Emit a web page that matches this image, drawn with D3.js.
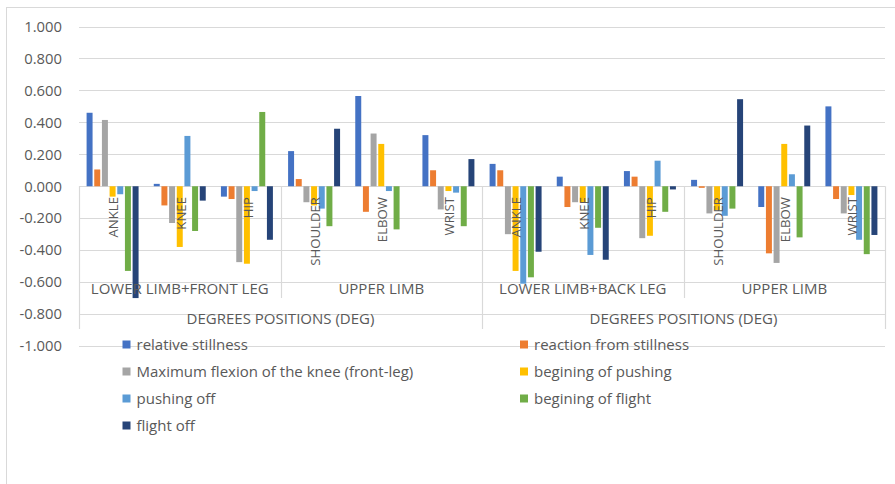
<!DOCTYPE html>
<html>
<head>
<meta charset="utf-8">
<script src="https://cdn.jsdelivr.net/npm/d3@7"></script>
<style>
  html, body { margin: 0; padding: 0; background: #ffffff; }
  svg { display: block; }
  text { font-family: "Open Sans", "Liberation Sans", sans-serif; fill: #595959; }
</style>
</head>
<body>
<svg id="chart" width="895" height="484"></svg>
<script>
// Joint categories (inner level), their limb groups and the outer heading
const joints = ["ANKLE", "KNEE", "HIP", "SHOULDER", "ELBOW", "WRIST",
                "ANKLE", "KNEE", "HIP", "SHOULDER", "ELBOW", "WRIST"];
const limbGroups = ["LOWER LIMB+FRONT LEG", "UPPER LIMB", "LOWER LIMB+BACK LEG", "UPPER LIMB"];
const headings = ["DEGREES POSITIONS (DEG)", "DEGREES POSITIONS (DEG)"];

// Phase series names
const seriesNames = [
  "relative stillness",
  "reaction from stillness",
  "Maximum flexion of the knee (front-leg)",
  "begining of pushing",
  "pushing off",
  "begining of flight",
  "flight off"
];

// Values per phase, one entry per joint
const relativeStillness  = [0.460, 0.015, -0.065, 0.220, 0.565, 0.320, 0.140, 0.060, 0.095, 0.040, -0.130, 0.500];
const reactionStillness  = [0.105, -0.120, -0.080, 0.045, -0.160, 0.100, 0.100, -0.130, 0.060, -0.010, -0.420, -0.080];
const maxKneeFlexion     = [0.415, -0.230, -0.475, -0.100, 0.330, -0.145, -0.300, -0.100, -0.325, -0.170, -0.480, -0.170];
const beginingPushing    = [-0.065, -0.380, -0.485, -0.120, 0.265, -0.030, -0.530, -0.100, -0.310, -0.150, 0.265, -0.055];
const pushingOff         = [-0.050, 0.315, -0.030, -0.140, -0.030, -0.040, -0.610, -0.430, 0.160, -0.185, 0.075, -0.335];
const beginingFlight     = [-0.530, -0.280, 0.465, -0.250, -0.270, -0.250, -0.570, -0.260, -0.160, -0.140, -0.320, -0.425];
const flightOff          = [-0.700, -0.090, -0.335, 0.360, 0.000, 0.170, -0.410, -0.460, -0.020, 0.545, 0.380, -0.305];

const seriesValues = [relativeStillness, reactionStillness, maxKneeFlexion, beginingPushing,
                      pushingOff, beginingFlight, flightOff];

const yTicks = [-1, -0.8, -0.6, -0.4, -0.2, 0, 0.2, 0.4, 0.6, 0.8, 1];

const colors = ["#4472C4", "#ED7D31", "#A5A5A5", "#FFC000", "#5B9BD5", "#70AD47", "#264478"];

const svg = d3.select("#chart");
const gridColor = "#d9d9d9";

// Outer chart frame
svg.append("rect")
  .attr("x", 6.5).attr("y", 7.5)
  .attr("width", 900).attr("height", 490)
  .attr("fill", "none").attr("stroke", gridColor).attr("stroke-width", 1);

const plotLeft = 79, plotRight = 885;
const y = d3.scaleLinear().domain([-1, 1]).range([346, 26.5]);

const idx = d3.range(joints.length);
const x0 = d3.scaleBand().domain(idx).range([plotLeft, plotRight]).paddingInner(0).paddingOuter(0);
const x1 = d3.scaleBand().domain(d3.range(seriesNames.length))
  .range([0, x0.bandwidth()]).paddingInner(0.22).paddingOuter(0.99);

const fmt = d3.formatLocale({decimal: ".", thousands: ",", grouping: [3], currency: ["", ""], minus: "-"}).format(".3f");

// Horizontal gridlines
svg.append("g")
  .selectAll("line").data(yTicks).join("line")
  .attr("x1", plotLeft).attr("x2", plotRight)
  .attr("y1", d => Math.round(y(d)) + 0.5).attr("y2", d => Math.round(y(d)) + 0.5)
  .attr("stroke", gridColor).attr("stroke-width", 1.2);

// Value axis labels
const yAxis = d3.axisLeft(y).tickValues(yTicks).tickFormat(fmt).tickSize(0).tickPadding(0);
const yAxisG = svg.append("g").attr("transform", `translate(${62},0)`).call(yAxis);
yAxisG.select(".domain").remove();
yAxisG.selectAll("text").attr("font-size", 14.8).attr("fill", "#595959")
  .style("font-family", "'Open Sans', sans-serif");

// Bars
const bars = svg.append("g");
seriesValues.forEach((vals, s) => {
  bars.append("g").attr("fill", colors[s])
    .selectAll("rect").data(vals).join("rect")
    .attr("x", (d, i) => x0(i) + x1(s))
    .attr("width", x1.bandwidth())
    .attr("y", d => y(Math.max(0, d)))
    .attr("height", d => Math.abs(y(d) - y(0)));
});

// Category axis: boundaries between groups
const groupSize = 3;
const boundaries = d3.range(0, joints.length + 1, groupSize).map(i =>
  i < joints.length ? x0(i) : plotRight);
svg.append("g").selectAll("line").data(boundaries).join("line")
  .attr("x1", d => Math.round(d) + 0.5).attr("x2", d => Math.round(d) + 0.5)
  .attr("y1", y(0))
  .attr("y2", (d, i) => (i % 2 === 0 ? 329 : 298))
  .attr("stroke", gridColor).attr("stroke-width", 1.2);

// Inner joint labels, rotated
svg.append("g").selectAll("text").data(idx).join("text")
  .attr("transform", i => `translate(${x0(i) + x0.bandwidth() / 2 + 1},197) rotate(-90)`)
  .attr("text-anchor", "end")
  .attr("dy", "0.36em")
  .attr("font-size", 13.2)
  .text(i => joints[i]);

// Limb group labels
svg.append("g").selectAll("text").data(limbGroups).join("text")
  .attr("x", (d, g) => (x0(g * groupSize) + (g * groupSize + groupSize < joints.length ? x0(g * groupSize + groupSize) : plotRight)) / 2)
  .attr("y", 293.5)
  .attr("text-anchor", "middle")
  .attr("font-size", 15)
  .text(d => d);

// Outer heading labels
const headingSize = 6;
svg.append("g").selectAll("text").data(headings).join("text")
  .attr("x", (d, h) => (x0(h * headingSize) + (h * headingSize + headingSize < joints.length ? x0(h * headingSize + headingSize) : plotRight)) / 2)
  .attr("y", 324)
  .attr("text-anchor", "middle")
  .attr("font-size", 15)
  .text(d => d);

// Legend, two columns
const legendCols = [122.5, 520];
const legendRowY = [344.5, 371.5, 398.5, 425.5];
const legend = svg.append("g").selectAll("g").data(seriesNames).join("g")
  .attr("transform", (d, i) => `translate(${legendCols[i % 2]},${legendRowY[Math.floor(i / 2)]})`);
legend.append("rect")
  .attr("x", 0).attr("y", -4).attr("width", 8).attr("height", 8)
  .attr("fill", (d, i) => colors[i]);
legend.append("text")
  .attr("x", 14).attr("dy", "0.36em")
  .attr("font-size", 15)
  .text(d => d);
</script>
</body>
</html>
